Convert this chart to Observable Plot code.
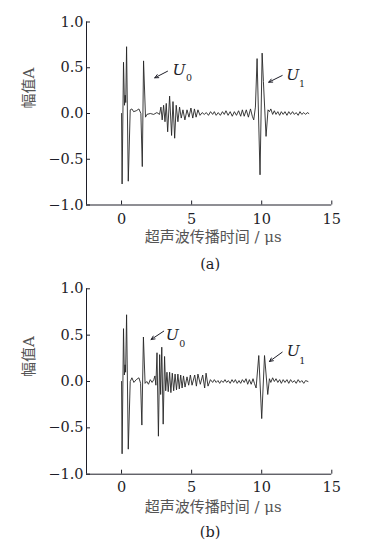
<!DOCTYPE html>
<html><head><meta charset="utf-8">
<script src="https://cdn.jsdelivr.net/npm/d3@7"></script>
<script src="https://cdn.jsdelivr.net/npm/@observablehq/plot@0.6"></script>
<style>
html,body{margin:0;padding:0;background:#fff;}
#chart{width:373px;}
#chart svg{display:block;}
</style></head><body><div id="chart"></div>
<script>
// ---- data (time μs, amplitude A) ----
const waveA = [
  [0.00,0.00],[0.04,-0.77],[0.14,0.56],[0.21,0.09],[0.26,0.20],[0.30,0.12],[0.36,0.73],[0.48,-0.74],
  [0.62,0.04],[0.74,0.05],[0.86,0.02],[1.05,0.03],[1.24,0.05],[1.38,0.00],[1.48,-0.58],[1.57,0.575],
  [1.71,-0.04],[1.81,-0.01],[2.05,0.00],[2.29,-0.01],[2.52,0.01],[2.71,-0.01],[2.81,0.07],[2.90,-0.07],
  [3.00,0.09],[3.10,-0.09],[3.19,0.11],[3.29,-0.20],[3.43,0.19],[3.57,-0.24],[3.67,0.13],[3.79,-0.27],
  [3.90,0.09],[4.02,-0.09],[4.14,0.07],[4.26,-0.05],[4.38,0.04],[4.52,-0.07],[4.67,0.04],[4.81,-0.04],
  [4.95,0.06],[5.08,-0.05],[5.20,0.05],[5.32,-0.04],[5.45,0.04],[5.60,-0.02],[5.75,0.01],[5.90,-0.01],
  [6.05,0.01],[6.20,-0.02],[6.35,0.02],[6.50,-0.01],[6.62,0.02],[6.75,-0.02],[6.90,0.01],[7.05,-0.02],
  [7.20,0.02],[7.33,-0.01],[7.45,0.03],[7.60,-0.02],[7.75,0.02],[7.90,-0.03],[8.05,0.02],[8.20,-0.02],
  [8.35,0.03],[8.50,-0.03],[8.62,0.04],[8.75,-0.03],[8.90,0.04],[9.05,-0.04],[9.20,0.05],[9.33,-0.03],
  [9.43,-0.07],[9.55,0.07],[9.67,0.60],[9.88,-0.67],[10.03,0.66],[10.12,0.35],[10.31,-0.25],[10.45,0.04],
  [10.55,0.02],[10.65,0.05],[10.78,-0.01],[10.90,0.03],[11.02,-0.01],[11.15,0.02],[11.28,-0.02],[11.40,0.02],
  [11.53,-0.01],[11.66,0.02],[11.80,-0.02],[11.93,0.02],[12.06,-0.01],[12.20,0.02],[12.33,-0.01],[12.46,0.01],
  [12.60,-0.02],[12.73,0.02],[12.86,-0.01],[13.00,0.01],[13.13,-0.01],[13.25,0.01],[13.36,0.00]
];
const waveB = [
  [0.00,0.00],[0.04,-0.78],[0.14,0.57],[0.20,0.07],[0.25,0.18],[0.29,0.10],[0.36,0.72],[0.48,-0.73],
  [0.62,0.00],[0.74,0.04],[0.88,-0.01],[1.05,0.02],[1.24,0.04],[1.36,-0.02],[1.45,-0.47],[1.56,0.48],
  [1.68,-0.02],[1.80,0.00],[1.92,-0.03],[2.05,0.02],[2.18,-0.01],[2.30,0.02],[2.38,0.06],[2.45,-0.04],
  [2.53,0.31],[2.63,-0.59],[2.72,0.29],[2.79,-0.14],[2.87,0.37],[2.97,-0.46],[3.07,0.27],[3.15,-0.10],
  [3.24,0.10],[3.33,-0.11],[3.43,0.10],[3.52,-0.12],[3.62,0.09],[3.72,-0.10],[3.82,0.08],[3.92,-0.09],
  [4.02,0.08],[4.12,-0.08],[4.22,0.07],[4.32,-0.07],[4.42,0.06],[4.53,-0.06],[4.67,0.05],[4.79,-0.04],
  [4.91,0.07],[5.03,-0.04],[5.22,0.07],[5.34,-0.05],[5.45,0.08],[5.62,-0.03],[5.79,0.07],[5.93,-0.07],
  [6.03,0.09],[6.17,-0.05],[6.34,0.02],[6.50,-0.01],[6.62,0.02],[6.75,-0.01],[6.88,0.01],[7.00,-0.02],
  [7.12,0.01],[7.25,-0.01],[7.38,0.02],[7.50,-0.01],[7.62,0.01],[7.75,-0.02],[7.88,0.02],[8.00,-0.01],
  [8.12,0.02],[8.25,-0.02],[8.38,0.01],[8.50,-0.02],[8.62,0.02],[8.75,-0.01],[8.88,0.03],[9.00,-0.03],
  [9.12,0.02],[9.25,-0.03],[9.38,0.03],[9.48,-0.02],[9.60,-0.07],[9.79,0.28],[10.00,-0.40],[10.20,0.28],
  [10.43,-0.14],[10.55,0.03],[10.65,-0.01],[10.78,0.04],[10.90,0.00],[11.02,0.03],[11.15,-0.01],[11.28,0.02],
  [11.40,-0.02],[11.53,0.02],[11.66,-0.01],[11.80,0.02],[11.93,-0.02],[12.06,0.02],[12.20,-0.01],[12.33,0.01],
  [12.46,-0.02],[12.60,0.02],[12.73,-0.01],[12.86,0.01],[13.00,-0.02],[13.13,0.01],[13.30,0.00]
];
const xTicks = [0, 5, 10, 15];
const yTicks = [-1, -0.5, 0, 0.5, 1];
const xDomain = [-2.5, 15];
const yDomain = [-1, 1];
const xTitle = "超声波传播时间 / μs";
const yTitle = "幅值A";
const captions = ["(a)", "(b)"];
// annotations: label "U" + subscript, arrows (tail -> head), in data units
const labelTexts = ["U", "U"];
const subTexts = ["0", "1"];
const labelPosA = [[3.64, 0.479], [11.75, 0.424]];
const subPosA   = [[4.82, 0.385], [12.88, 0.325]];
const arrowsA   = [[3.28, 0.462, 2.37, 0.39], [11.46, 0.415, 10.5, 0.342]];
const labelPosB = [[3.16, 0.505], [11.79, 0.326]];
const subPosB   = [[4.33, 0.405], [12.9, 0.222]];
const arrowsB   = [[3.01, 0.543, 2.11, 0.453], [11.46, 0.316, 10.55, 0.216]];

const ink = "#1e1e28";
const serif = "'DejaVu Serif', 'Liberation Serif', serif";
const cjk = "'DejaVu Serif', 'Noto Sans CJK SC', serif";

function panel(wave, labelPos, subPos, arrows, caption, layout) {
  const idx = [0, 1];
  return Plot.plot({
    width: 373, height: 274,
    marginLeft: 86, marginRight: 41.7,
    marginTop: layout.mt, marginBottom: layout.mb,
    x: {domain: xDomain}, y: {domain: yDomain},
    style: {fontFamily: serif, fontSize: "14.5px", color: ink, background: "#fff", overflow: "visible"},
    marks: [
      Plot.ruleX([xDomain[0]], {stroke: ink, strokeWidth: 1}),
      Plot.ruleY([yDomain[0]], {stroke: ink, strokeWidth: 1}),
      Plot.axisX({ticks: xTicks, tickSize: 4, dy: -4, tickFormat: () => "", label: null, stroke: ink}),
      Plot.axisX({ticks: xTicks, tickSize: 0, tickPadding: layout.xpad, tickFormat: d => String(d), label: null, fill: ink}),
      Plot.axisY({ticks: yTicks, tickSize: 4, dx: 4, tickFormat: () => "", label: null, stroke: ink}),
      Plot.axisY({ticks: yTicks, tickSize: 0, tickPadding: 3, tickFormat: d => d.toFixed(1).replace("-", "\u2212"), label: null, fill: ink}),
      Plot.line(wave, {x: d => d[0], y: d => d[1], stroke: "#262626", strokeWidth: 0.9, strokeLinejoin: "miter"}),
      Plot.arrow(arrows, {x1: d => d[0], y1: d => d[1], x2: d => d[2], y2: d => d[3], stroke: ink, strokeWidth: 1, headLength: 6, headAngle: 50}),
      Plot.text(idx, {x: i => labelPos[i][0], y: i => labelPos[i][1], text: i => labelTexts[i], textAnchor: "start", fontStyle: "italic", fontSize: 15.5, fontFamily: serif, fill: ink}),
      Plot.text(idx, {x: i => subPos[i][0], y: i => subPos[i][1], text: i => subTexts[i], textAnchor: "middle", fontSize: 9.5, fontFamily: serif, fill: ink}),
      Plot.text([xTitle], {text: d => d, frameAnchor: "bottom", dx: 4, dy: layout.titleDy, fontSize: 15, fontFamily: cjk, fill: "#555"}),
      Plot.text([yTitle], {text: d => d, frameAnchor: "left", dx: -57.5, dy: layout.yDy, rotate: -90, fontSize: 15, fontFamily: cjk, fill: "#555"}),
      Plot.text([caption], {text: d => d, frameAnchor: "bottom", dx: 1, dy: layout.capDy, fontSize: 14.5, fontFamily: serif, fill: ink})
    ]
  });
}

const root = document.getElementById("chart");
root.appendChild(panel(waveA, labelPosA, subPosA, arrowsA, captions[0], {mt: 21.5, mb: 69.5, xpad: 9, titleDy: 37.2, capDy: 63.5, yDy: -5}));
root.appendChild(panel(waveB, labelPosB, subPosB, arrowsB, captions[1], {mt: 14.3, mb: 74.3, xpad: 8, titleDy: 38, capDy: 62.8, yDy: -4.5}));
</script>
</body></html>
